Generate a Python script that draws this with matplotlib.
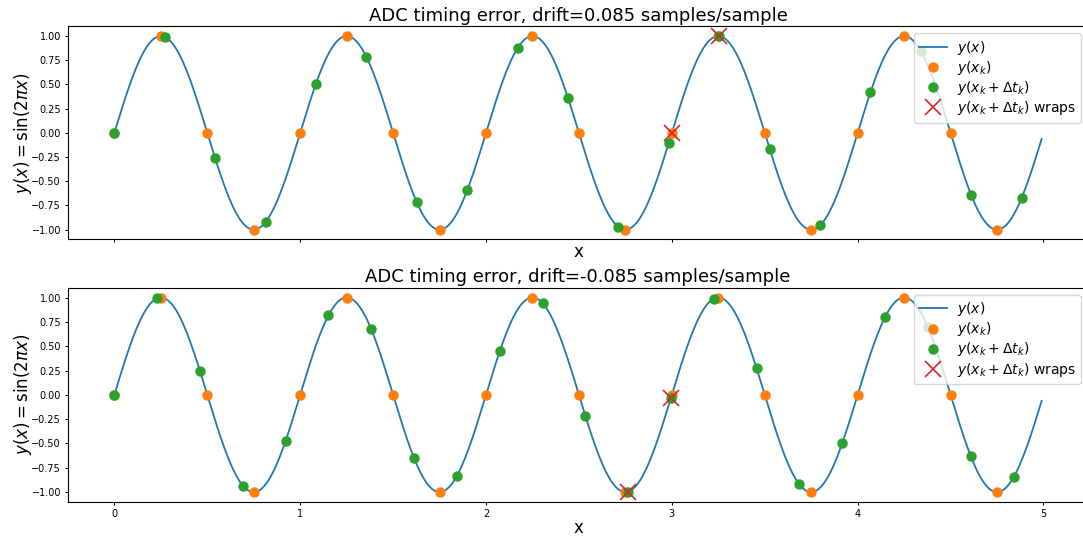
import numpy as np
import matplotlib
matplotlib.use("Agg")
import matplotlib.pyplot as plt

# continuous signal y(x) = sin(2*pi*x), sampled at 0.01 up to 4.99
x_curve = np.arange(0, 5, 0.01)

# nominal sample grid (orange)
xk = [0.0, 0.25, 0.5, 0.75, 1.0, 1.25, 1.5, 1.75, 2.0, 2.25,
      2.5, 2.75, 3.0, 3.25, 3.5, 3.75, 4.0, 4.25, 4.5, 4.75]
yk = [0, 1, 0, -1, 0, 1, 0, -1, 0, 1,
      0, -1, 0, 1, 0, -1, 0, 1, 0, -1]

# drifted samples, drift = +0.085
x_pos = [0.0, 0.2713, 0.5425, 0.8138, 1.085, 1.3563, 1.6275, 1.8988, 2.17, 2.4413,
         2.7125, 2.9838, 3.255, 3.5263, 3.7975, 4.0688, 4.34, 4.6113, 4.8825]
y_pos = [0.0, 0.9911, -0.2639, -0.9208, 0.5090, 0.7853, -0.7181, -0.5941, 0.8763, 0.3608,
         -0.9724, -0.1019, 0.9995, -0.1642, -0.9558, 0.4187, 0.8443, -0.6434, -0.6730]
x_pos_wrap = [3.0, 3.255]
y_pos_wrap = [0.0, 0.9995]

# drifted samples, drift = -0.085
x_neg = [0.0, 0.2304, 0.4608, 0.6912, 0.9217, 1.1521, 1.3825, 1.6129, 1.8433, 2.0737, 2.3041,
         2.5346, 2.765, 2.9954, 3.2258, 3.4562, 3.6866, 3.9171, 4.1475, 4.3779, 4.6083, 4.8387]
y_neg = [0.0, 0.9924, 0.2436, -0.9326, -0.4727, 0.8166, 0.6731, -0.6514, -0.8333, 0.4469, 0.9426,
         -0.2155, -0.9956, -0.0290, 0.9885, 0.2716, -0.9217, -0.4980, 0.7993, 0.6943, -0.6289, -0.8486]
x_neg_wrap = [2.765, 2.9954]
y_neg_wrap = [-0.9956, -0.0290]

panels = [
    (0.085, x_pos, y_pos, x_pos_wrap, y_pos_wrap),
    (-0.085, x_neg, y_neg, x_neg_wrap, y_neg_wrap),
]

fig = plt.figure(figsize=(10.83, 5.39), dpi=100)
ax1 = fig.add_axes([0.0628, 0.556, 0.9418, 0.395])
ax2 = fig.add_axes([0.0628, 0.069, 0.9418, 0.397], sharex=ax1)

for ax, (drift, xd, yd, xw, yw) in zip([ax1, ax2], panels):
    ax.plot(x_curve, np.sin(2 * np.pi * x_curve), color="C0", lw=1.3, label=r"$y(x)$")
    ax.plot(xk, yk, "o", color="C1", ms=6.5, label=r"$y(x_k)$")
    ax.plot(xd, yd, "o", color="C2", ms=6.5, label=r"$y(x_k + \Delta t_k)$")
    ax.plot(xw, yw, "x", color="C3", ms=12, mew=1.2, label=r"$y(x_k + \Delta t_k)$ wraps")
    ax.set_title(f"ADC timing error, drift={drift} samples/sample", fontsize=13, pad=4)
    ax.set_xlabel("x", fontsize=12, labelpad=0)
    ax.set_ylabel(r"$y(x) = \sin(2\pi x)$", fontsize=12, labelpad=-2)
    ax.tick_params(labelsize=7, length=2.5, pad=2.5)
    ax.set_yticks(np.arange(-1, 1.01, 0.25))
    ax.legend(loc="upper right", fontsize=10, labelspacing=0.15, handletextpad=0.7)

ax1.tick_params(labelbottom=False)

fig.savefig("out.png", dpi=100)
